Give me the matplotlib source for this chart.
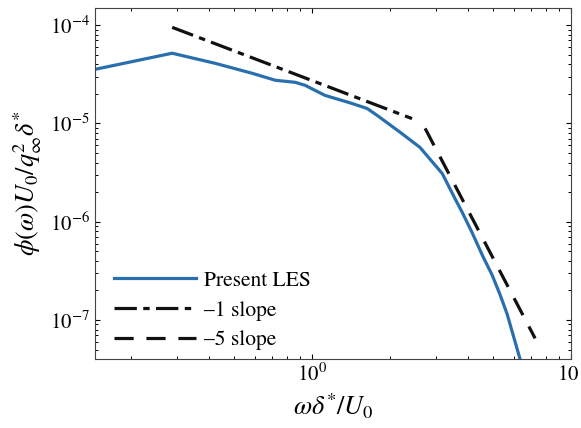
import matplotlib
matplotlib.use('Agg')
import matplotlib.pyplot as plt

# 数据
les_x = [0.145, 0.288, 0.422, 0.586, 0.72, 0.86, 0.94, 1.12, 1.40, 1.63, 1.78, 2.19, 2.61,
         3.18, 3.56, 3.80, 4.15, 4.57, 4.95, 5.32, 5.66, 6.35, 6.6]
les_y = [3.55e-5, 5.18e-5, 4.09e-5, 3.24e-5, 2.75e-5, 2.62e-5, 2.44e-5, 1.93e-5, 1.62e-5,
         1.42e-5, 1.21e-5, 8.1e-6, 5.69e-6, 3.09e-6, 1.72e-6, 1.24e-6, 7.7e-7, 4.4e-7,
         2.88e-7, 1.80e-7, 1.15e-7, 4.0e-8, 3.0e-8]

slope1_x = [0.288, 2.43]
slope1_y = [9.5e-5, 1.12e-5]

slope5_x = [2.73, 7.26]
slope5_y = [8.9e-6, 6.5e-8]

plt.rcParams['font.family'] = 'serif'
plt.rcParams['font.serif'] = ['STIXGeneral', 'Liberation Serif']
plt.rcParams['mathtext.fontset'] = 'stix'
plt.rcParams['font.size'] = 16

fig = plt.figure(figsize=(5.81, 4.28), dpi=100)
ax = fig.add_axes([0.1635, 0.161, 0.8195, 0.82])

ax.plot(les_x, les_y, color='#2a6fad', lw=2.3, label='Present LES')
ax.plot(slope1_x, slope1_y, color='#111111', lw=2.3, dashes=(7, 2, 2, 2), label='\u20131 slope')
ax.plot(slope5_x, slope5_y, color='#111111', lw=2.3, dashes=(6, 4), label='\u20135 slope')

ax.set_xscale('log')
ax.set_yscale('log')
ax.set_xlim(0.145, 10)
ax.set_ylim(4e-8, 1.49e-4)

ax.set_xlabel(r'$\omega\delta^{*}/U_0$', fontsize=19, labelpad=4)
ax.set_ylabel(r'$\phi(\omega)U_0/q_\infty^2\delta^{*}$', fontsize=19, labelpad=4)

ax.tick_params(which='both', direction='in', top=True, right=True, labelsize=15)
ax.tick_params(which='major', length=3.6, width=0.8)
ax.tick_params(which='minor', length=2.2, width=0.7)
for s in ax.spines.values():
    s.set_color('#444444')

ax.legend(loc='lower left', frameon=False, handlelength=3.8, borderaxespad=0.0,
          labelspacing=0.45, handletextpad=0.4, fontsize=15.5, bbox_to_anchor=(0.022, 0.0))

fig.savefig('out.png', dpi=100)
